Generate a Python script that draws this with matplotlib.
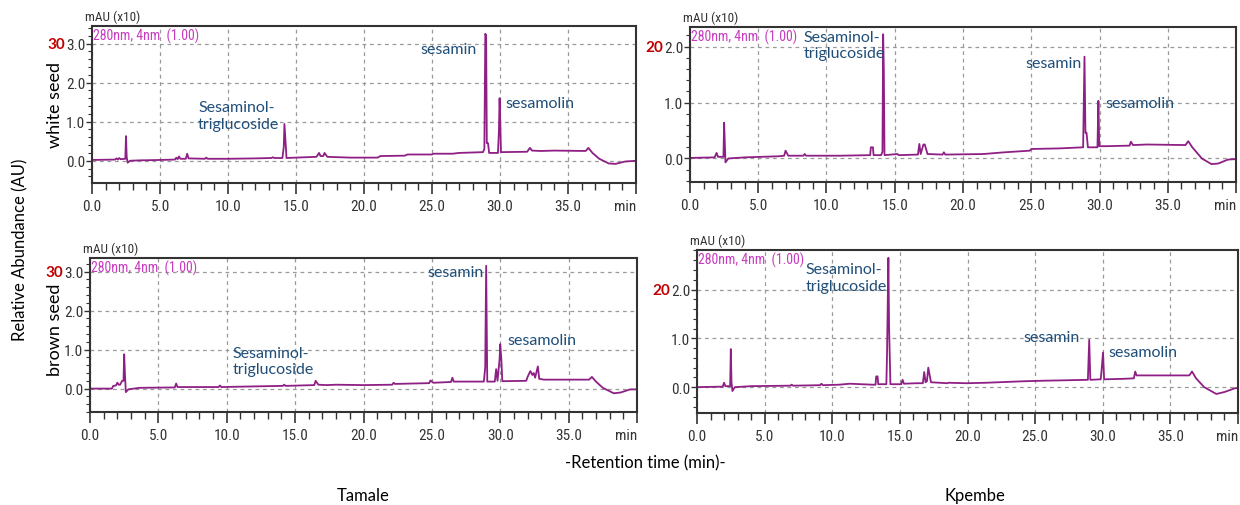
import matplotlib.pyplot as plt
from matplotlib.ticker import MultipleLocator
from matplotlib import font_manager
import numpy as np

####################
## DATA
####################

# Tamale - white seed: retention time (min), signal (mAU x10)
tw_T = [0.0, 1.7, 1.8, 1.9, 2.0, 2.1, 2.45, 2.5, 2.55, 2.62, 2.8, 3.5, 5.0, 6.1, 6.2, 6.3, 6.4, 6.5, 6.9, 7.0,
        7.1, 8.3, 8.4, 8.5, 10.0, 12.0, 13.2, 13.3, 13.4, 14.0, 14.1, 14.15, 14.25, 14.3, 15.0, 16.5, 16.7,
        16.8, 17.0, 17.1, 17.3, 19.0, 21.0, 21.2, 23.0, 23.2, 25.0, 25.1, 26.5, 27.0, 28.75, 28.85, 28.92,
        28.98, 29.03, 29.12, 29.2, 29.85, 29.92, 29.97, 30.02, 30.07, 32.0, 32.2, 32.35, 33.0, 34.0, 36.3,
        36.5, 36.8, 37.3, 38.0, 38.5, 39.2, 40.0]
sw_T = [0.02, 0.03, 0.06, 0.03, 0.07, 0.04, 0.05, 0.63, 0.1, -0.05, 0.0, 0.01, 0.02, 0.03, 0.08, 0.04, 0.11,
        0.05, 0.05, 0.18, 0.06, 0.05, 0.08, 0.05, 0.05, 0.06, 0.07, 0.09, 0.07, 0.07, 0.35, 0.94, 0.38, 0.07,
        0.08, 0.1, 0.2, 0.12, 0.12, 0.2, 0.1, 0.08, 0.08, 0.12, 0.13, 0.16, 0.16, 0.18, 0.18, 0.2, 0.22, 0.3,
        3.25, 3.2, 0.45, 0.45, 0.2, 0.2, 0.75, 1.6, 1.0, 0.22, 0.23, 0.33, 0.26, 0.25, 0.26, 0.25, 0.33, 0.2,
        0.05, -0.07, -0.08, -0.02, 0.0]

# Kpembe - white seed
tw_K = [0.0, 1.8, 1.95, 2.05, 2.45, 2.5, 2.55, 2.6, 2.8, 4.0, 6.5, 6.9, 7.0, 7.2, 8.3, 8.4, 8.5, 11.0, 13.2,
        13.25, 13.4, 13.45, 14.0, 14.1, 14.15, 14.2, 14.25, 15.2, 15.3, 16.7, 16.8, 16.9, 17.1, 17.2, 17.4,
        18.5, 18.6, 18.7, 21.5, 23.0, 24.9, 25.0, 27.0, 28.8, 28.9, 28.97, 29.05, 29.15, 29.85, 29.92, 29.98,
        30.5, 32.2, 32.3, 32.45, 33.5, 36.3, 36.5, 36.8, 37.5, 38.2, 38.7, 39.4, 40.0]
sw_K = [0.01, 0.02, 0.1, 0.03, 0.03, 0.64, 0.27, -0.07, 0.0, 0.02, 0.04, 0.05, 0.14, 0.05, 0.05, 0.08, 0.05,
        0.05, 0.06, 0.2, 0.2, 0.06, 0.06, 0.12, 2.22, 1.56, 0.06, 0.08, 0.06, 0.07, 0.26, 0.08, 0.25, 0.25,
        0.08, 0.07, 0.11, 0.07, 0.08, 0.11, 0.14, 0.17, 0.18, 0.2, 1.82, 0.46, 0.46, 0.2, 0.2, 1.03, 0.22,
        0.22, 0.23, 0.3, 0.24, 0.25, 0.24, 0.31, 0.2, 0.0, -0.1, -0.09, -0.02, -0.01]

# Tamale - brown seed
tb_T = [0.0, 1.6, 1.7, 1.9, 2.0, 2.1, 2.2, 2.35, 2.45, 2.5, 2.55, 2.62, 2.8, 3.6, 6.2, 6.3, 6.4, 8.3, 9.4, 9.5,
        9.6, 11.0, 14.1, 14.2, 14.3, 16.4, 16.5, 16.7, 17.3, 18.0, 20.0, 22.1, 22.2, 22.3, 24.8, 24.9, 25.1,
        26.4, 26.5, 26.6, 28.8, 28.9, 28.97, 29.05, 29.6, 29.7, 29.8, 29.95, 30.0, 30.08, 30.15, 31.9, 32.0,
        32.2, 32.35, 32.45, 32.55, 32.75, 32.85, 33.2, 36.5, 36.7, 37.0, 37.5, 38.3, 38.8, 39.5, 40.0]
sb_T = [0.0, 0.0, 0.07, 0.08, 0.15, 0.1, 0.1, 0.2, 0.2, 0.88, 0.41, -0.09, -0.02, 0.02, 0.03, 0.13, 0.04, 0.04,
        0.04, 0.08, 0.04, 0.05, 0.07, 0.1, 0.07, 0.09, 0.2, 0.1, 0.09, 0.1, 0.09, 0.1, 0.15, 0.12, 0.14, 0.21,
        0.15, 0.17, 0.28, 0.18, 0.18, 0.54, 3.15, 0.18, 0.18, 0.5, 0.2, 0.75, 1.14, 0.75, 0.19, 0.2, 0.3,
        0.45, 0.35, 0.4, 0.28, 0.57, 0.25, 0.23, 0.23, 0.3, 0.18, 0.02, -0.12, -0.1, -0.02, -0.02]

# Kpembe - brown seed
tb_K = [0.0, 1.9, 2.0, 2.1, 2.45, 2.5, 2.55, 2.62, 2.8, 4.0, 6.9, 7.0, 7.1, 9.1, 9.2, 9.3, 10.5, 11.3, 13.0,
        13.2, 13.25, 13.35, 13.4, 14.0, 14.05, 14.15, 14.2, 14.3, 15.1, 15.2, 15.3, 16.2, 16.7, 16.8, 16.9,
        17.0, 17.1, 17.3, 18.5, 18.6, 19.9, 21.4, 24.1, 25.4, 28.9, 29.0, 29.08, 29.85, 29.92, 30.02, 30.1,
        31.5, 32.3, 32.4, 32.5, 36.4, 36.6, 36.9, 37.5, 38.4, 39.0, 39.8, 40.0]
sb_K = [0.0, 0.01, 0.09, 0.02, 0.02, 0.78, 0.1, -0.08, 0.0, 0.02, 0.03, 0.05, 0.03, 0.04, 0.07, 0.04, 0.05,
        0.07, 0.05, 0.05, 0.22, 0.22, 0.06, 0.06, 0.68, 2.65, 1.26, 0.06, 0.06, 0.15, 0.07, 0.08, 0.08, 0.31,
        0.1, 0.12, 0.4, 0.1, 0.08, 0.09, 0.08, 0.09, 0.12, 0.13, 0.15, 0.97, 0.15, 0.16, 0.37, 0.71, 0.16,
        0.17, 0.18, 0.32, 0.24, 0.24, 0.32, 0.18, 0.0, -0.14, -0.1, -0.02, -0.02]

# peak labels: (text, x, y, ha)
peaks_wT = [('Sesaminol-\ntriglucoside', 7.8, 1.15, 'left'), ('sesamin', 28.3, 2.86, 'right'),
            ('sesamolin', 30.4, 1.48, 'left')]
peaks_wK = [('Sesaminol-\ntriglucoside', 8.35, 2.03, 'left'), ('sesamin', 28.7, 1.71, 'right'),
            ('sesamolin', 30.4, 0.99, 'left')]
peaks_bT = [('Sesaminol-\ntriglucoside', 10.4, 0.71, 'left'), ('sesamin', 28.8, 3.0, 'right'),
            ('sesamolin', 30.5, 1.25, 'left')]
peaks_bK = [('Sesaminol-\ntriglucoside', 8.0, 2.25, 'left'), ('sesamin', 28.3, 1.02, 'right'),
            ('sesamolin', 30.4, 0.73, 'left')]

xticks = [0, 5, 10, 15, 20, 25, 30, 35, 40]
xticklabels = ['0.0', '5.0', '10.0', '15.0', '20.0', '25.0', '30.0', '35.0', 'min']

####################
## STYLE
####################

# narrow font for the instrument texts, if any condensed face is installed
names = set(f.name for f in font_manager.fontManager.ttflist)
narrow = [n for n in ['Liberation Sans Narrow', 'DejaVu Sans Condensed', 'Roboto Condensed'] if n in names]
cond_ok = len(narrow) > 0
narrow = narrow + ['DejaVu Sans']
nsize = 11 if cond_ok else 8.5

label_font = ['Lato', 'DejaVu Sans']
trace_col = '#8e1f84'
blue = '#1f4e79'
dark = '#333333'

fig = plt.figure(figsize=(12.4, 5.06), dpi=100)


def px_axes(left, right, top, bottom):
	# axes from pixel box (origin top-left)
	W, H = 1240., 506.
	return fig.add_axes([left / W, 1 - bottom / H, (right - left) / W, (bottom - top) / H])


def chrom(ax, t, s, ylim, yticks, peaks, scale_tag):
	ax.plot(t, s, color=trace_col, lw=1.3)
	ax.set_xlim(0, 40)
	ax.set_ylim(*ylim)
	ax.set_xticks(xticks)
	ax.set_xticklabels(xticklabels, family=narrow, fontsize=nsize, color=dark)
	ax.get_xticklabels()[-1].set_ha('right')
	ax.xaxis.set_minor_locator(MultipleLocator(1))
	ax.set_yticks(yticks)
	ax.set_yticklabels(['%.1f' % v for v in yticks], family=narrow, fontsize=nsize, color=dark)
	ax.yaxis.set_minor_locator(MultipleLocator(0.2))
	ax.tick_params(axis='x', which='major', direction='out', length=8, width=1.2, color=dark)
	ax.tick_params(axis='x', which='minor', direction='out', length=5, width=1.0, color=dark)
	ax.tick_params(axis='y', which='major', direction='out', length=4, width=1.0, color=dark, pad=1)
	ax.tick_params(axis='y', which='minor', direction='out', length=3, width=0.8, color=dark)
	ax.grid(which='major', color='#9a9a9a', linestyle=(0, (3, 3)), linewidth=0.9)
	for sp in ax.spines.values():
		sp.set_linewidth(1.5)
		sp.set_color(dark)
	# instrument header texts
	ax.annotate('mAU (x10)', xy=(0, 1), xycoords='axes fraction', xytext=(-5, 2),
		textcoords='offset points', family=narrow, fontsize=nsize - 1.5, color=dark, ha='left', va='bottom')
	ax.annotate('280nm, 4nm  (1.00)', xy=(0, 1), xycoords='axes fraction', xytext=(1, -1),
		textcoords='offset points', family=narrow, fontsize=nsize - 1, color='#c83cc0',
		ha='left', va='top')
	# red scale value next to top labelled tick
	ax.annotate(scale_tag, xy=(0, yticks[-1]), xycoords=ax.get_yaxis_transform(), xytext=(-19, 0),
		textcoords='offset points', fontsize=11, fontweight='bold', color='#c00000',
		ha='right', va='center', family=label_font)
	for txt, x, y, ha in peaks:
		ax.text(x, y, txt, color=blue, fontsize=11.5, ha=ha, va='center', family=label_font,
			linespacing=1.25)


ax1 = px_axes(92, 636, 27, 184)
chrom(ax1, tw_T, sw_T, (-0.57, 3.45), [0.0, 1.0, 2.0, 3.0], peaks_wT, '30')
ax2 = px_axes(690, 1236, 28, 183)
chrom(ax2, tw_K, sw_K, (-0.42, 2.35), [0.0, 1.0, 2.0], peaks_wK, '20')
ax3 = px_axes(90, 637, 259, 413)
chrom(ax3, tb_T, sb_T, (-0.6, 3.35), [0.0, 1.0, 2.0, 3.0], peaks_bT, '30')
ax4 = px_axes(697, 1238, 251, 414)
chrom(ax4, tb_K, sb_K, (-0.53, 2.81), [0.0, 1.0, 2.0], peaks_bK, '20')

## figure-level labels
fig.text(20 / 1240, 1 - 250 / 506, 'Relative Abundance (AU)', rotation=90, ha='center', va='center',
	fontsize=12, family=label_font)
fig.text(55 / 1240, 1 - 105 / 506, 'white seed', rotation=90, ha='center', va='center',
	fontsize=13, family=label_font)
fig.text(55 / 1240, 1 - 330 / 506, 'brown seed', rotation=90, ha='center', va='center',
	fontsize=13, family=label_font)
fig.text(645 / 1240, 1 - 463 / 506, '-Retention time (min)-', ha='center', va='center',
	fontsize=12, family=label_font)
fig.text(363 / 1240, 1 - 496 / 506, 'Tamale', ha='center', va='center', fontsize=12, family=label_font)
fig.text(975 / 1240, 1 - 496 / 506, 'Kpembe', ha='center', va='center', fontsize=12, family=label_font)

fig.savefig('out.png', dpi=100)
